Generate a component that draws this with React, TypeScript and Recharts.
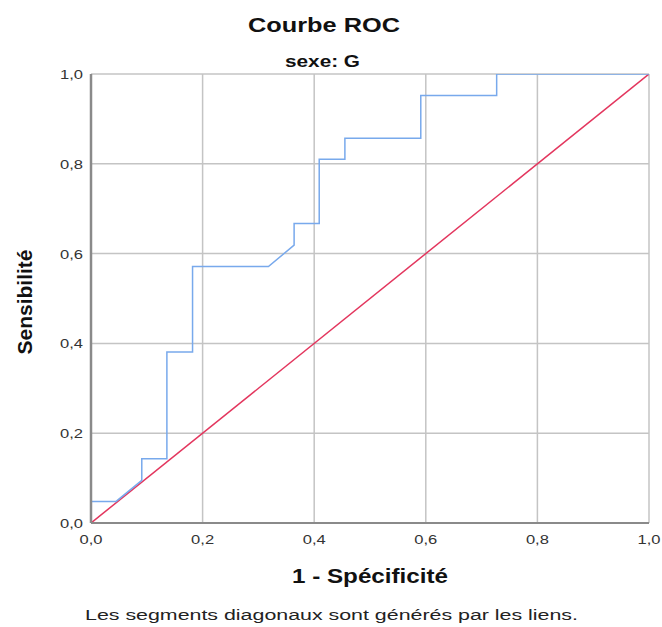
import React from "react";
import { LineChart, Line, XAxis, YAxis, CartesianGrid } from "recharts";

// ROC curve points (1 - specificity, sensitivity) for group "sexe: G"
const fprValues = [
  0, 0, 0.045, 0.091, 0.091, 0.136, 0.136, 0.182, 0.182, 0.318, 0.364,
  0.364, 0.409, 0.409, 0.455, 0.455, 0.591, 0.591, 0.727, 0.727, 1,
];
const tprValues = [
  0, 0.048, 0.048, 0.095, 0.143, 0.143, 0.381, 0.381, 0.571, 0.571, 0.619,
  0.667, 0.667, 0.81, 0.81, 0.857, 0.857, 0.952, 0.952, 1, 1,
];

// Reference line (chance)
const diagonalFpr = [0, 1];
const diagonalTpr = [0, 1];

const axisTicks = [0, 0.2, 0.4, 0.6, 0.8, 1];

const rocData = fprValues.map((fpr, i) => ({ fpr, tpr: tprValues[i] }));
const diagData = diagonalFpr.map((fpr, i) => ({ fpr, tpr: diagonalTpr[i] }));

const fmt = (v: number) => v.toFixed(1).replace(".", ",");

const FONT = "'Liberation Sans', Arial, sans-serif";

const XTick = (props: any) => {
  const { x, y, payload } = props;
  return (
    <text
      x={x}
      y={y + 21}
      textAnchor="middle"
      fontSize={13}
      fontFamily={FONT}
      fill="#333"
      textLength={23}
      lengthAdjust="spacingAndGlyphs"
    >
      {fmt(payload.value)}
    </text>
  );
};

const YTick = (props: any) => {
  const { x, y, payload } = props;
  return (
    <text
      x={x - 8}
      y={y + 5}
      textAnchor="end"
      fontSize={13}
      fontFamily={FONT}
      fill="#333"
      textLength={23}
      lengthAdjust="spacingAndGlyphs"
    >
      {fmt(payload.value)}
    </text>
  );
};

export default function App() {
  return (
    <div
      style={{
        position: "absolute",
        left: 0,
        top: 0,
        width: 662,
        height: 627,
        background: "#fff",
      }}
    >
      <LineChart
        width={662}
        height={627}
        margin={{ top: 74, right: 13, bottom: 74, left: 51 }}
      >
        <CartesianGrid
          stroke="#c4c4c4"
          strokeWidth={1.5}
          horizontalValues={axisTicks}
          verticalValues={axisTicks}
        />
        <XAxis
          dataKey="fpr"
          type="number"
          domain={[0, 1]}
          ticks={axisTicks}
          height={30}
          tickLine={false}
          tickSize={0}
          tickMargin={0}
          tick={<XTick />}
          axisLine={{ stroke: "#8a8a8a", strokeWidth: 2 }}
          allowDataOverflow
        />
        <YAxis
          dataKey="tpr"
          type="number"
          domain={[0, 1]}
          ticks={axisTicks}
          width={40}
          tickLine={false}
          tickSize={0}
          tickMargin={0}
          tick={<YTick />}
          axisLine={{ stroke: "#8a8a8a", strokeWidth: 2.5 }}
          allowDataOverflow
        />
        <Line
          data={diagData}
          dataKey="tpr"
          type="linear"
          stroke="#e3365e"
          strokeWidth={1.5}
          dot={false}
          isAnimationActive={false}
        />
        <Line
          data={rocData}
          dataKey="tpr"
          type="linear"
          stroke="#78a9ec"
          strokeWidth={1.5}
          dot={false}
          isAnimationActive={false}
        />
      </LineChart>
      <svg
        width={662}
        height={627}
        style={{ position: "absolute", left: 0, top: 0, pointerEvents: "none" }}
        fontFamily={FONT}
      >
        <text
          x={248}
          y={32}
          fontSize={21}
          fontWeight="bold"
          fill="#111"
          textLength={152}
          lengthAdjust="spacingAndGlyphs"
        >
          Courbe ROC
        </text>
        <text
          x={285}
          y={67}
          fontSize={16}
          fontWeight="bold"
          fill="#111"
          textLength={75}
          lengthAdjust="spacingAndGlyphs"
        >
          sexe: G
        </text>
        <text
          x={292}
          y={583}
          fontSize={21}
          fontWeight="bold"
          fill="#111"
          textLength={156}
          lengthAdjust="spacingAndGlyphs"
        >
          1 - Spécificité
        </text>
        <text
          x={32}
          y={302}
          transform="rotate(-90 32 302)"
          textAnchor="middle"
          fontSize={21}
          fontWeight="bold"
          fill="#111"
          textLength={105}
          lengthAdjust="spacingAndGlyphs"
        >
          Sensibilité
        </text>
        <text
          x={85}
          y={620}
          fontSize={14}
          fill="#222"
          textLength={493}
          lengthAdjust="spacingAndGlyphs"
        >
          Les segments diagonaux sont générés par les liens.
        </text>
      </svg>
    </div>
  );
}
